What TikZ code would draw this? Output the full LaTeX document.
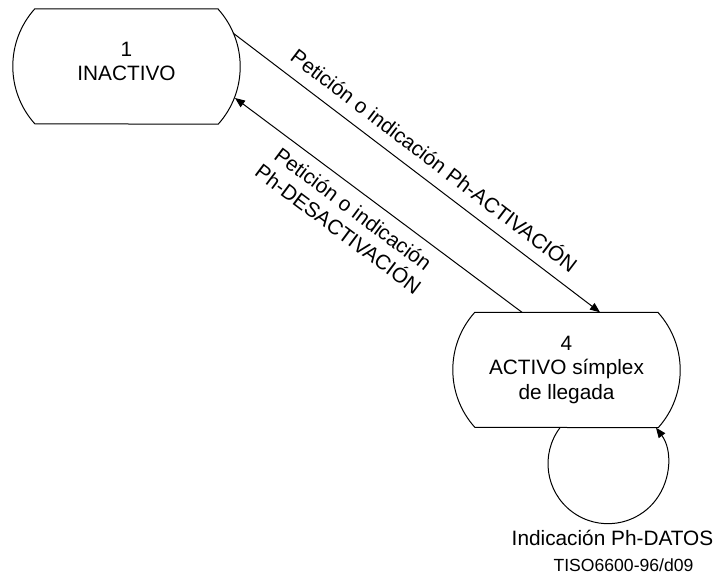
\documentclass[tikz,border=0pt]{standalone}
\usepackage{fontspec}
\setmainfont{Liberation Sans}
\usetikzlibrary{arrows.meta,calc}

% Outline of a state: straight top and bottom edges, arcs on both sides
\newcommand\stateoutline[1]{%
  \draw[line width=1pt] (#1.north east) -- (#1.north west)
    arc[start angle=138.1, end angle=221.9, radius=86.1pt]
    -- (#1.south east)
    arc[start angle=-41.9, end angle=41.9, radius=86.1pt] -- cycle;}

\tikzset{
  statebox/.style={minimum width=183pt, minimum height=115pt, inner sep=0pt},
  statetext/.style={align=center, inner sep=0pt,
    font=\fontsize{20.8}{24.8}\selectfont},
  lbl/.style={align=center, inner sep=0pt,
    font=\fontsize{20.8}{24.8}\selectfont},
  small/.style={inner sep=0pt, font=\fontsize{17.6}{20}\selectfont},
  conn/.style={line width=1pt, -{Triangle[length=10pt,width=8pt]}},
}

\begin{document}
\begin{tikzpicture}[x=1pt, y=1pt]
  \useasboundingbox (0,0) rectangle (718,-588);

  % states
  \node[statebox] (s1) at (126.5,-66.5) {};
  \stateoutline{s1}
  \node[statetext] (t1) at ([yshift=5pt]s1.center) {1\\INACTIVO};

  \node[statebox] (s4) at (566.5,-370) {};
  \stateoutline{s4}
  \node[statetext] (t4) at ([yshift=0pt]s4.center) {4\\ACTIVO símplex\\de llegada};

  % end points on the outlines
  \coordinate (a1) at ($(s1.center)+(106.5,33.5)$);
  \coordinate (a2) at ($(s4.north)+(33.5,0)$);
  \coordinate (d1) at ($(s4.north)+(-44.5,0)$);
  \coordinate (d2) at ($(s1.center)+(108.5,-31.5)$);
  \coordinate (l1) at ($(s4.south)+(-6.5,0)$);

  % transitions
  \draw[conn] (a1) -- (a2);
  \draw[conn] (d1) -- (d2);
  \draw[conn] (l1) arc[start angle=143.13, end angle=396.87, radius=60pt];

  % labels
  \node[lbl, rotate=-37.3] (la) at ($(a1)!0.515!(a2)!21.5pt!90:(a2)$)
    {Petición o indicación Ph-ACTIVACIÓN};
  \node[lbl, rotate=-36.8] (ld) at ($(d1)!0.55!(d2)!30.6pt!90:(d2)$)
    {Petición o indicación\\Ph-DESACTIVACIÓN};
  \node[lbl] (ll) at (612.5,-538) {Indicación Ph-DATOS};
  \node[small] (ref) at (623.5,-565) {TISO6600-96/d09};
\end{tikzpicture}
\end{document}
